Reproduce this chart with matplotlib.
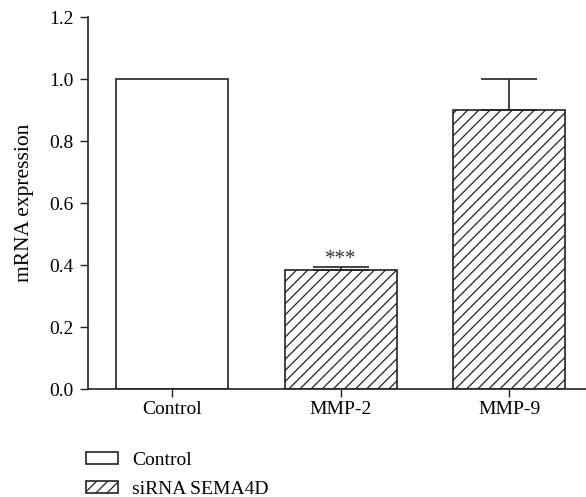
import matplotlib
matplotlib.use("Agg")
import matplotlib.pyplot as plt
from matplotlib.patches import Patch

plt.rcParams['font.family'] = ['Liberation Serif', 'DejaVu Serif']
plt.rcParams['hatch.linewidth'] = 0.9

categories = ["Control", "MMP-2", "MMP-9"]
values = [1.0, 0.385, 0.90]
errors = [0.0, 0.008, 0.10]
hatches = ["", "///", "///"]
yticks = [0.0, 0.2, 0.4, 0.6, 0.8, 1.0, 1.2]
legend_labels = ["Control", "siRNA SEMA4D"]
ylabel = "mRNA expression"
sig_label = "***"

fig = plt.figure(figsize=(5.86, 4.97), dpi=100)
ax = fig.add_axes([88/586, 1-389/497, 1-88/586, (389-17)/497])

edge = '#222222'
x = list(range(len(categories)))
for i in x:
    ax.bar(i, values[i], width=0.665, color='white', edgecolor=edge,
           linewidth=1.2, hatch=hatches[i] if hatches[i] else None, zorder=2)
    if errors[i] > 0:
        ax.errorbar(i, values[i], yerr=[[0], [errors[i]]], fmt='none',
                    ecolor=edge, elinewidth=1.2, capsize=20, capthick=1.2, zorder=3)

ax.text(1, values[1] + errors[1] - 0.006, sig_label, ha='center', va='bottom',
        fontsize=15, color='#333333')

ax.set_xlim(-0.5, 2.457)
ax.set_ylim(0, 1.2)
ax.set_yticks(yticks)
ax.set_yticklabels([f"{v:.1f}" for v in yticks])
ax.set_xticks(x)
ax.set_xticklabels(categories)
ax.set_ylabel(ylabel, fontsize=15.5, labelpad=11)
ax.tick_params(labelsize=14, width=1, length=5.5, color=edge)
ax.tick_params(axis='y', pad=5)
for s in ['top', 'right']:
    ax.spines[s].set_visible(False)
for s in ['left', 'bottom']:
    ax.spines[s].set_linewidth(1.2)
    ax.spines[s].set_color(edge)

handles = [Patch(facecolor='white', edgecolor=edge, linewidth=1.2),
           Patch(facecolor='white', edgecolor=edge, linewidth=1.2, hatch='///')]
fig.legend(handles, legend_labels, loc='upper left', bbox_to_anchor=(78/586, 1-444/497),
           frameon=False, fontsize=14, handlelength=1.65, handleheight=0.6,
           labelspacing=0.62, handletextpad=0.75, borderaxespad=0)

fig.savefig("out.png", dpi=100)
